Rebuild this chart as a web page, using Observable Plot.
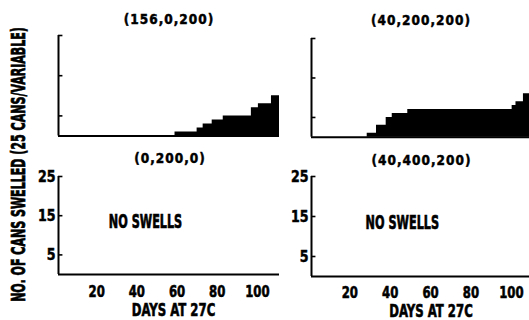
<!DOCTYPE html>
<html><head><meta charset="utf-8">
<script src="https://cdn.jsdelivr.net/npm/d3@7"></script>
<script src="https://cdn.jsdelivr.net/npm/@observablehq/plot@0.6"></script>
<style>
body{margin:0;background:#fff;}
#wrap{position:relative;width:529px;height:320px;overflow:hidden;background:#fff;font-family:"DejaVu Sans Condensed","DejaVu Sans",sans-serif;font-weight:bold;color:#000;}
#wrap svg text{stroke:#000;stroke-width:0.45px;}
.pl{position:absolute;}
.lbl{position:absolute;white-space:nowrap;line-height:1;-webkit-text-stroke:0.45px #000;}
</style></head><body><div id="wrap"></div>
<script>
// ---- data ----
const panelTitles = ["(156,0,200)", "(40,200,200)", "(0,200,0)", "(40,400,200)"];
const xTicks = [20, 40, 60, 80, 100];
const yTicks = [5, 15, 25];
const daysA = [59, 70, 73, 77.5, 83, 97, 100.5, 107, 111];
const cansA = [1, 2, 3, 4, 5, 7, 8, 10, 10];
const daysB = [28.6, 33.2, 38, 41, 48.7, 100.4, 102.3, 106, 109];
const cansB = [1, 3, 5, 6, 7, 8, 9, 11, 11];
const noSwells = "NO SWELLS";
const xLabel = "DAYS AT 27C";
const yLabel = "NO. OF CANS SWELLED (25 CANS/VARIABLE)";

const FONT = '"DejaVu Sans Condensed","DejaVu Sans",sans-serif';
const wrap = document.getElementById("wrap");

function stretch(svg, selector, sx, sy) {
  svg.querySelectorAll(selector).forEach(t => {
    const g = document.createElementNS("http://www.w3.org/2000/svg", "g");
    t.parentNode.insertBefore(g, t); g.appendChild(t);
    g.style.transformBox = "fill-box";
    g.style.transformOrigin = "center";
    g.style.transform = `scale(${sx},${sy})`;
  });
}

function panel(cfg) {
  const {days, cans, xDomain, left, top, width, height, ml, mr, mt, mb, bottom, pad} = cfg;
  const marks = [];
  if (days) marks.push(Plot.areaY(days.map((d, i) => ({day: d, n: cans[i]})),
    {x: "day", y: "n", curve: "step-after", fill: "#000"}));
  marks.push(Plot.ruleY([0], {stroke: "#000", strokeWidth: 2}));
  marks.push(Plot.ruleX([xDomain[0]], {stroke: "#000", strokeWidth: 2}));
  marks.push(Plot.ruleY(yTicks, {x1: xDomain[0], x2: xDomain[0] + 2.2, stroke: "#000", strokeWidth: 1.6}));
  if (bottom) {
    marks.push(Plot.axisX({ticks: xTicks, tickSize: 0, tickPadding: pad, fontSize: 13, tickFormat: d => String(d)}));
    marks.push(Plot.axisY({ticks: yTicks, tickSize: 0, tickPadding: 3, fontSize: 14, tickFormat: d => String(d)}));
    marks.push(Plot.text([noSwells], {x: cfg.nsX, y: cfg.nsY, text: d => d, fontSize: 12.5, fontWeight: "bold"}));
  }
  const svg = Plot.plot({
    width, height, marginLeft: ml, marginRight: mr, marginTop: mt, marginBottom: mb,
    x: {domain: xDomain, axis: null}, y: {domain: [0, 25], axis: null},
    style: {fontFamily: FONT, fontWeight: "bold", background: "transparent", overflow: "visible", color: "#000"},
    marks
  });
  svg.classList.add("pl");
  svg.style.left = left + "px"; svg.style.top = top + "px";
  wrap.appendChild(svg);
  stretch(svg, 'g[aria-label="x-axis tick label"] text', 1, 1.25);
  stretch(svg, 'g[aria-label="y-axis tick label"] text', 1, 1.1);
  stretch(svg, 'g[aria-label="text"] text', 1, 1.5);
}

panel({days: daysA, cans: cansA, xDomain: [1, 111], left: 0, top: 0, width: 285, height: 150, ml: 58, mr: 6, mt: 35, mb: 14.5});
panel({days: daysB, cans: cansB, xDomain: [1, 109], left: 290, top: 0, width: 239, height: 150, ml: 21, mr: 0, mt: 38, mb: 13.3});
panel({xDomain: [1, 111], left: 0, top: 160, width: 285, height: 160, ml: 58, mr: 6, mt: 16, mb: 46, bottom: true, pad: 12, nsX: 44.3, nsY: 13.4});
panel({xDomain: [1, 109], left: 290, top: 160, width: 239, height: 160, ml: 21, mr: 0, mt: 16, mb: 44, bottom: true, pad: 11.5, nsX: 46, nsY: 13.3});

function label(text, cx, cy, size, sx, sy, ls) {
  const d = document.createElement("div");
  d.className = "lbl";
  d.textContent = text;
  d.style.fontSize = size + "px";
  d.style.letterSpacing = (ls || 0) + "px";
  d.style.left = cx + "px"; d.style.top = cy + "px";
  d.style.transform = `translate(-50%,-50%) scale(${sx},${sy})`;
  wrap.appendChild(d);
}
label(panelTitles[0], 169, 19.5, 13.5, 1, 1.05, 1);
label(panelTitles[1], 421, 20.5, 13.5, 1, 1.05, 1);
label(panelTitles[2], 170, 158.5, 13.5, 1, 1.05, 1);
label(panelTitles[3], 421.5, 161, 13.5, 1, 1.05, 1);
label(xLabel, 173.5, 309.5, 13, 1, 1.3, 0);
label(xLabel, 431, 310.5, 13, 1, 1.3, 0);

// rotated y label: size it so its natural length fits 275px, then thicken across
const ysvg = d3.create("svg").attr("width", 40).attr("height", 320)
  .style("position", "absolute").style("left", "0px").style("top", "0px");
const yt = ysvg.append("text")
  .attr("text-anchor", "middle").attr("dominant-baseline", "central")
  .attr("font-size", 10).attr("font-weight", "bold").attr("font-family", FONT)
  .text(yLabel);
wrap.appendChild(ysvg.node());
const L = yt.node().getComputedTextLength() || 230;
const fs = 10 * 275 / L;
const k = Math.min(1.8, 14.5 / (0.73 * fs));
yt.attr("font-size", fs)
  .attr("transform", `translate(18,164.5) rotate(-90) scale(1,${k.toFixed(3)})`);
</script></body></html>
